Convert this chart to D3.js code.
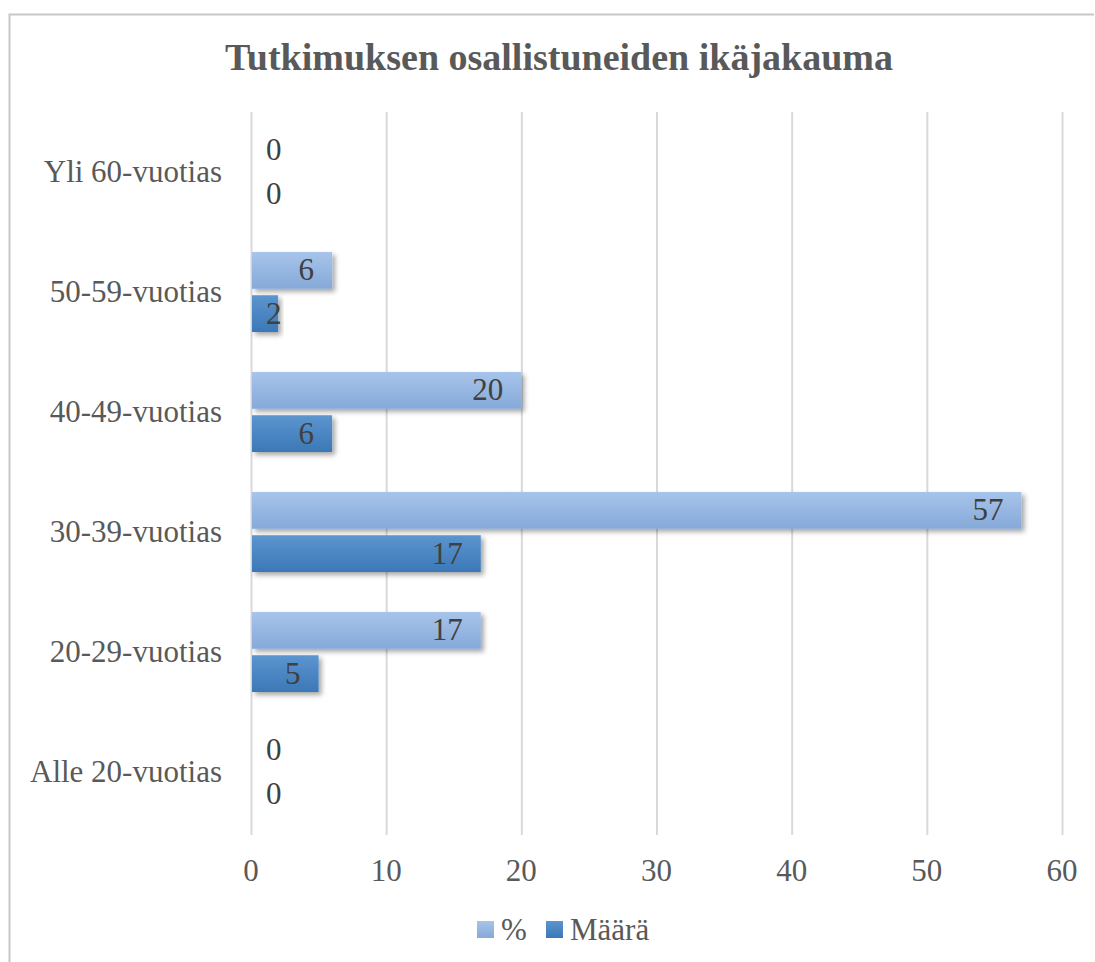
<!DOCTYPE html>
<html>
<head>
<meta charset="utf-8">
<script src="https://d3js.org/d3.v7.min.js"></script>
<style>
body { margin: 0; background: #fff; }
</style>
</head>
<body>
<div class="chart"></div>
<script>
// chart data
const categories = ["Yli 60-vuotias", "50-59-vuotias", "40-49-vuotias", "30-39-vuotias", "20-29-vuotias", "Alle 20-vuotias"];
const percentValues = [0, 6, 20, 57, 17, 0];
const countValues = [0, 2, 6, 17, 5, 0];
const seriesNames = ["%", "Määrä"];
const xTicks = [0, 10, 20, 30, 40, 50, 60];

const WIDTH = 1095;
const HEIGHT = 962;
const FONT = "'Liberation Serif', 'Times New Roman', serif";
const FS = "31px";

const svg = d3.select(".chart")
    .append("svg")
    .attr("width", WIDTH)
    .attr("height", HEIGHT);

// gradients + shadow
const defs = svg.append("defs");
const grads = [["gLight", "#a7c4ea", "#85a9d9"], ["gDark", "#5c95cf", "#3b78b7"]];
grads.forEach(g => {
    const lg = defs.append("linearGradient").attr("id", g[0])
        .attr("x1", 0).attr("y1", 0).attr("x2", 0).attr("y2", 1);
    lg.append("stop").attr("offset", "0%").attr("stop-color", g[1]);
    lg.append("stop").attr("offset", "100%").attr("stop-color", g[2]);
});
const f = defs.append("filter").attr("id", "shadow")
    .attr("x", "-10%").attr("y", "-30%").attr("width", "130%").attr("height", "180%");
f.append("feDropShadow").attr("dx", 3).attr("dy", 3).attr("stdDeviation", 2.5)
    .attr("flood-color", "#000").attr("flood-opacity", 0.35);

// outer border (chart area)
svg.append("path")
    .attr("d", "M9.5,962 L9.5,14.5 L1094,14.5")
    .attr("fill", "none")
    .attr("stroke", "#c8c8c8")
    .attr("stroke-width", 2);

// title
svg.append("text")
    .attr("x", 559)
    .attr("y", 70)
    .attr("text-anchor", "middle")
    .style("font-family", FONT)
    .style("font-weight", "bold")
    .style("font-size", "38px")
    .style("fill", "#595959")
    .text("Tutkimuksen osallistuneiden ikäjakauma");

//scales
const xScale = d3.scaleLinear().domain([0, 60]).range([251, 1062]);
const yScale = d3.scaleBand().domain(categories).range([112, 832]);
const inner = d3.scaleBand().domain(seriesNames).range([20, 100]).paddingInner(0.15);

// grid
svg.append("g").selectAll("line")
    .data(xTicks)
    .join("line")
    .attr("x1", d => xScale(d) + 0.5)
    .attr("x2", d => xScale(d) + 0.5)
    .attr("y1", 112)
    .attr("y2", 835)
    .attr("stroke", "#d9d9d9")
    .attr("stroke-width", 2);

// x axis labels
svg.append("g").selectAll("text")
    .data(xTicks)
    .join("text")
    .attr("x", d => xScale(d))
    .attr("y", 881)
    .attr("text-anchor", "middle")
    .style("font-family", FONT)
    .style("font-size", FS)
    .style("fill", "#595959")
    .text(d => d);

// category labels
svg.append("g").selectAll("text")
    .data(categories)
    .join("text")
    .attr("x", 222)
    .attr("y", d => yScale(d) + yScale.bandwidth() / 2 + 10)
    .attr("text-anchor", "end")
    .style("font-family", FONT)
    .style("font-size", FS)
    .style("fill", "#595959")
    .text(d => d);

// bars
const rows = [];
categories.forEach((c, i) => {
    rows.push({ cat: c, series: "%", value: percentValues[i], fill: "url(#gLight)" });
    rows.push({ cat: c, series: "Määrä", value: countValues[i], fill: "url(#gDark)" });
});

svg.append("g").selectAll("rect")
    .data(rows.filter(d => d.value > 0))
    .join("rect")
    .attr("x", xScale(0) + 1)
    .attr("y", d => yScale(d.cat) + inner(d.series))
    .attr("width", d => xScale(d.value) - xScale(0) - 1)
    .attr("height", inner.bandwidth())
    .attr("fill", d => d.fill)
    .attr("filter", "url(#shadow)");

// value labels (inside end, clamped to the left)
const labels = svg.append("g").selectAll("text")
    .data(rows)
    .join("text")
    .attr("y", d => yScale(d.cat) + inner(d.series) + inner.bandwidth() / 2 + 10)
    .style("font-family", FONT)
    .style("font-size", FS)
    .style("fill", "#404040")
    .text(d => d.value);

labels.each(function (d) {
    const w = this.getComputedTextLength();
    const left = Math.max(xScale(d.value) - 18 - w, xScale(0) + 15);
    d3.select(this).attr("x", left);
});

// legend
const legend = svg.append("g");
const legendItems = [
    { name: "%", fill: "url(#gLight)", x: 477 },
    { name: "Määrä", fill: "url(#gDark)", x: 546 }
];
legendItems.forEach(l => {
    legend.append("rect")
        .attr("x", l.x)
        .attr("y", 921)
        .attr("width", 17)
        .attr("height", 17)
        .attr("fill", l.fill);
    legend.append("text")
        .attr("x", l.x + 24)
        .attr("y", 940)
        .style("font-family", FONT)
        .style("font-size", FS)
        .style("fill", "#595959")
        .text(l.name);
});
</script>
</body>
</html>
